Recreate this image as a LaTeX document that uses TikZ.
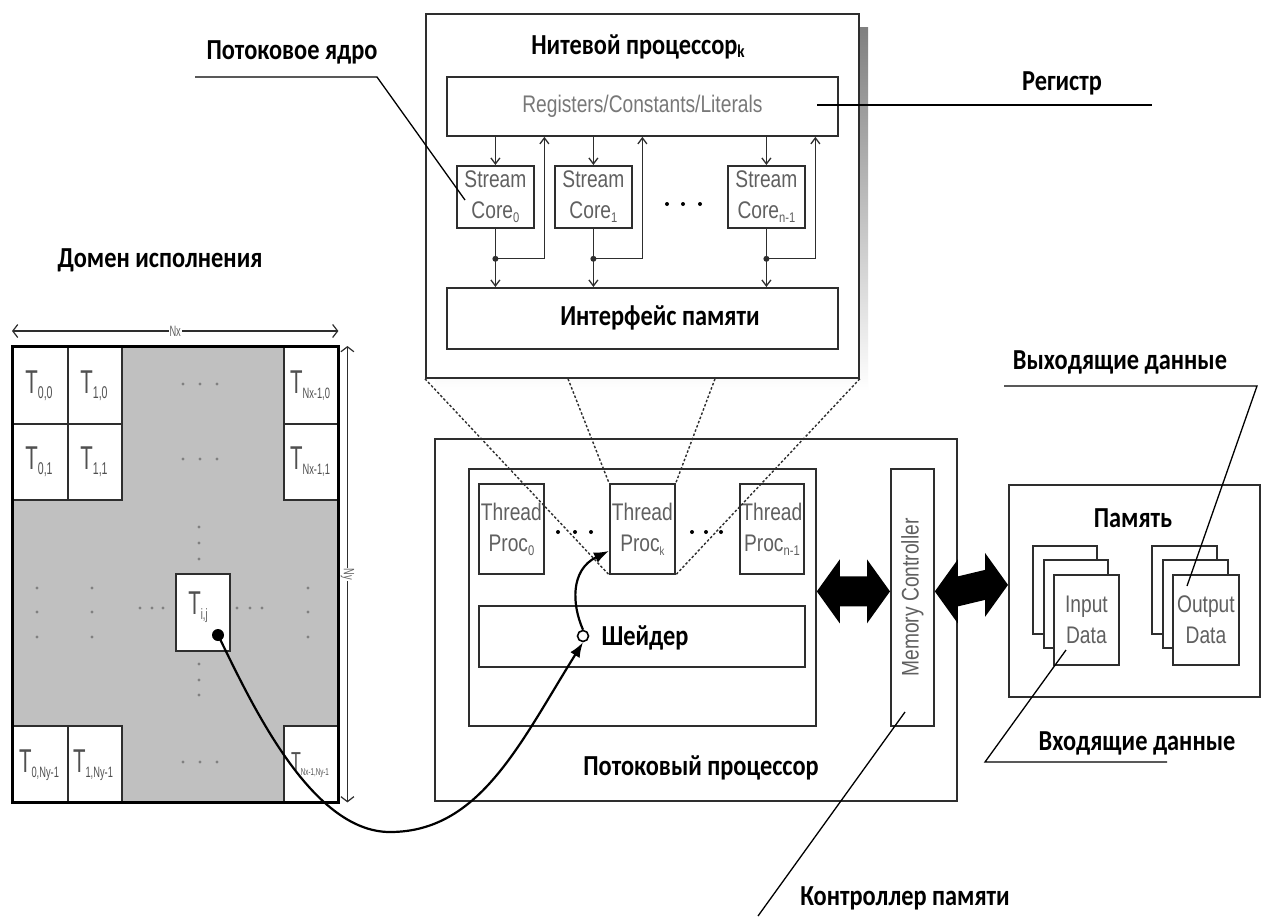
\documentclass[tikz,border=0pt]{standalone}
\usepackage{fontspec}
\setmainfont{Carlito}
\newfontfamily\rusfont[FakeStretch=0.84]{Carlito}
\newfontfamily\engfont[FakeStretch=0.8]{Liberation Sans}
\newfontfamily\cellfont[FakeStretch=0.62]{Liberation Sans}
\usetikzlibrary{arrows.meta,calc}
\definecolor{ink}{HTML}{2E2E2E}
\definecolor{lbl}{HTML}{606060}
\definecolor{cellink}{HTML}{505050}
\definecolor{shade}{HTML}{C0C0C0}
\definecolor{dotc}{HTML}{808080}

% lowered small index
\newcommand\lowsub[3][4pt]{\raisebox{-#1}{\fontsize{#2}{#2}\selectfont #3}}
% thread cell label T_{...}
\newcommand\tlab[2][16]{T\lowsub[5pt]{#1}{#2}}
% plain rectangle node: name, x, y (top left), width, height
\newcommand\bx[5]{\node[box, minimum width=#4pt, minimum height=#5pt] (#1) at (#2,#3) {};}

\tikzset{
  box/.style={draw=ink, line width=1.8pt, fill=white, inner sep=0pt, anchor=north west},
  eng/.style={font=\engfont\fontsize{24}{31}\selectfont, text=lbl, align=center},
  rus/.style={font=\rusfont\bfseries\fontsize{29}{31}\selectfont, text=black, inner sep=0pt},
  tl/.style={font=\cellfont\fontsize{33}{33}\selectfont, text=cellink, inner sep=0pt},
  flow/.style={draw=ink, line width=1.3pt, -{Straight Barb[length=6pt,width=9pt]}},
  wire/.style={draw=ink, line width=1.3pt},
  callout/.style={draw=black, line width=1.3pt},
  zoomline/.style={draw=ink, line width=1.4pt, dash pattern=on 2.5pt off 2pt},
  bigtip/.style={-{Latex[length=15pt,width=11pt]}, line width=2.2pt, draw=black},
  dim/.style={draw=ink, line width=1.2pt, {Straight Barb[length=5pt,width=13pt]}-{Straight Barb[length=5pt,width=13pt]}},
  dimlabel/.style={fill=white, font=\cellfont\fontsize{15}{15}\selectfont, text=lbl, inner sep=1pt},
}

\begin{document}
\begin{tikzpicture}[x=1pt,y=-1pt]
\useasboundingbox (0,0) rectangle (1263,916);
\fill[white] (0,0) rectangle (1263,916);

% ---------- thread processor (detail) ----------
\fill[shade] (435,27) rectangle (868,391);
\bx{tp}{425}{13}{433}{364}
\node[rus] (tptitle) at (638,47) {Нитевой процессор\lowsub[3pt]{18}{k}};
\node[box, eng, minimum width=391pt, minimum height=59pt, text=lbl!85] (regs) at (446,76) {Registers/Constants/Literals};
\node[box, eng, minimum width=77pt, minimum height=62pt] (core0) at (456,165) {Stream\\Core\lowsub{14}{0}};
\node[box, eng, minimum width=77pt, minimum height=62pt] (core1) at (554,165) {Stream\\Core\lowsub{14}{1}};
\node[box, eng, minimum width=77pt, minimum height=62pt] (coreN) at (727,165) {Stream\\Core\lowsub{14}{n-1}};
\foreach \x in {667,683,700} \fill[black] (\x,204) circle (2);
\bx{mif}{446}{287}{391}{61}
\node[rus] (miftext) at (660,318) {Интерфейс памяти};

\foreach \c in {core0,core1,coreN} {
  \draw[flow] (\c.north |- regs.south) -- (\c.north);
  \draw[wire] (\c.south) -- ($(\c.south)+(0,30)$) coordinate (\c-j);
  \draw[flow] (\c-j) -- (\c-j |- mif.north);
  \draw[flow] (\c-j) -| ($(\c.north |- regs.south)+(49,0)$);
  \fill[ink] (\c-j) circle (3);
}

% ---------- execution domain ----------
\node[rus] (domtitle) at (160,260) {Домен исполнения};
\node[fill=shade, minimum width=326pt, minimum height=456pt, anchor=north west, inner sep=0pt] (grid) at (12,346) {};
\bx{c00}{12}{346}{55}{77}
\bx{c10}{67}{346}{54}{77}
\bx{cN0}{283}{346}{55}{77}
\bx{c01}{12}{423}{55}{76}
\bx{c11}{67}{423}{54}{76}
\bx{cN1}{283}{423}{55}{76}
\bx{c0N}{12}{725}{55}{77}
\bx{c1N}{67}{725}{54}{77}
\bx{cNN}{283}{725}{55}{77}
\bx{cij}{175}{573}{54}{77}
\draw[black, line width=3pt] (grid.north west) rectangle (grid.south east);

\node[tl] at (39,386) {\tlab[17]{0,0}};
\node[tl] at (94,386) {\tlab[17]{1,0}};
\node[tl] at (310,386) {\tlab[15]{Nx-1,0}};
\node[tl] at (39,462) {\tlab[17]{0,1}};
\node[tl] at (94,462) {\tlab[17]{1,1}};
\node[tl] at (310,462) {\tlab[15]{Nx-1,1}};
\node[tl] at (39,765) {\tlab[15]{0,Ny-1}};
\node[tl] at (93,765) {\tlab[15]{1,Ny-1}};
\node[tl, font=\cellfont\fontsize{26}{26}\selectfont] at (310,765) {\tlab[10]{Nx-1,Ny-1}};
\node[tl] at (198,607) {\tlab[15]{i,j}};

% grid ellipses
\foreach \y in {384,459,762} \foreach \x in {183,200,217} \fill[dotc] (\x,\y) circle (1.6);
\foreach \y in {527,543,559,664,680,695} \fill[dotc] (199,\y) circle (1.6);
\foreach \x in {37,92,308} \foreach \y in {588,612,637} \fill[dotc] (\x,\y) circle (1.6);
\foreach \x in {140,152,163,237,250,262} \fill[dotc] (\x,608) circle (1.6);

\draw[dim] ([yshift=15pt]grid.north west) -- node[dimlabel] {Nx} ([yshift=15pt]grid.north east);
\draw[dim] ([xshift=9pt]grid.north east) -- node[dimlabel, rotate=-90] {Ny} ([xshift=9pt]grid.south east);

% ---------- stream processor ----------
\bx{sp}{434}{438}{522}{362}
\bx{ip}{468}{468}{347}{257}
\node[box, eng, minimum width=65pt, minimum height=90pt] (p0) at (478,483) {Thread\\Proc\lowsub{14}{0}};
\node[box, eng, minimum width=65pt, minimum height=90pt] (pk) at (609,483) {Thread\\Proc\lowsub{12}{k}};
\node[box, eng, minimum width=64pt, minimum height=90pt] (pn) at (739,483) {Thread\\Proc\lowsub{14}{n-1}};
\foreach \x in {558,575,591,692,706,721} \fill[black] (\x,532) circle (2);
\bx{sh}{478}{605}{326}{61}
\node[rus] (shtext) at (645,638) {Шейдер};
\node[rus] (sptitle) at (701,768) {Потоковый процессор};
\bx{mc}{890}{468}{43}{257}
\node[eng, rotate=90] (mctext) at (mc) {Memory Controller};

% ---------- memory ----------
\bx{mem}{1008}{484}{251}{212}
\node[rus] (memtitle) at (1133,518) {Память};
\bx{in1}{1032}{545}{64}{88}
\bx{in2}{1043}{559}{64}{88}
\node[box, eng, minimum width=65pt, minimum height=90pt] (in3) at (1053,574) {Input\\Data};
\bx{out1}{1151}{545}{65}{88}
\bx{out2}{1162}{559}{65}{88}
\node[box, eng, minimum width=66pt, minimum height=90pt] (out3) at (1172,574) {Output\\Data};

% ---------- wide bidirectional links ----------
\coordinate (la) at ([yshift=6pt]ip.east);
\coordinate (lb) at ([yshift=6pt]mc.west);
\coordinate (ra) at ([yshift=6pt]mc.east);
\coordinate (rb) at ([yshift=6pt]mem.west);
\foreach \a/\b in {la/lb,ra/rb} {
  \fill[black] (\a) -- ++(23,-32) -- ++(0,17) -- ($(\b)+(-23,-15)$) -- ++(0,-17) -- (\b)
    -- ++(-23,32) -- ++(0,-17) -- ($(\a)+(23,15)$) -- ++(0,17) -- cycle;
}

% ---------- thread mapping ----------
\coordinate (tdot) at (218,635);
\fill[black] (tdot) circle (6);
\node[draw=black, line width=1.6pt, circle, minimum size=11pt, inner sep=0pt, fill=white] (sc) at (583,636) {};
\draw[bigtip] (tdot) .. controls (250,700) and (310,832) .. (390,832)
  .. controls (480,832) and (520,743) .. (sc.south);
\draw[bigtip] (sc.north) .. controls (572,605) and (570,570) .. ([yshift=-22pt]pk.west);

% ---------- callouts ----------
\node[rus] (lblcore) at (292,52) {Потоковое ядро};
\coordinate (k1) at (195,77); \coordinate (k2) at (377,77); \coordinate (k3) at (465,200);
\draw[callout] (k1) -- (k2) -- (k3);
\node[rus] (lblreg) at (1062,83) {Регистр};
\coordinate (r1) at (817,105); \coordinate (r2) at (1152,105);
\draw[callout] (r1) -- (r2);
\node[rus] (lblout) at (1120,362) {Выходящие данные};
\coordinate (o1) at (1004,386); \coordinate (o2) at (1257,386); \coordinate (o3) at (1187,586);
\draw[callout] (o1) -- (o2) -- (o3);
\node[rus] (lblin) at (1137,743) {Входящие данные};
\coordinate (i1) at (1167,762); \coordinate (i2) at (985,762); \coordinate (i3) at (1066,650);
\draw[callout] (i1) -- (i2) -- (i3);
\node[rus] (lblmc) at (905,898) {Контроллер памяти};
\coordinate (m1) at (758,916); \coordinate (m2) at (905,712);
\draw[callout] (m1) -- (m2);

% ---------- zoom lines from thread processor to Proc_k ----------
\draw[zoomline] (tp.south west) -- (pk.south west);
\draw[zoomline] ($(tp.south west)+(143,0)$) -- (pk.north west);
\draw[zoomline] ($(tp.south west)+(290,0)$) -- (pk.north east);
\draw[zoomline] (tp.south east) -- (pk.south east);
\end{tikzpicture}
\end{document}
